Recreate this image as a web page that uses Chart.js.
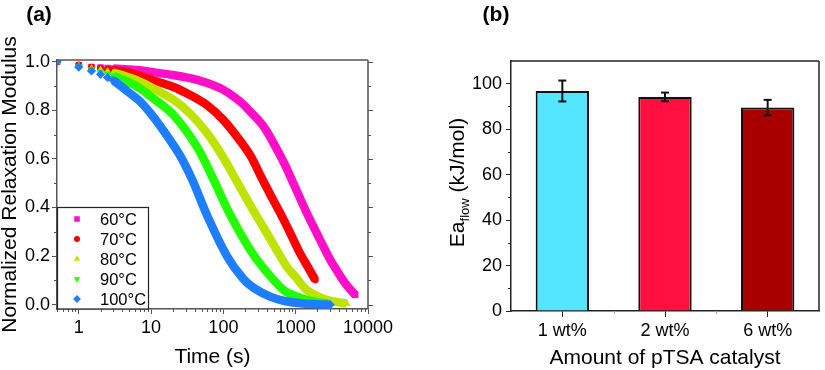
<!DOCTYPE html>
<html>
<head>
<meta charset="utf-8">
<script src="https://cdn.jsdelivr.net/npm/chart.js@4.4.0/dist/chart.umd.min.js"></script>
<style>
  html, body { margin: 0; padding: 0; background: #fff; }
  #wrap { position: relative; width: 825px; height: 370px; }
  canvas { position: absolute; top: 0; }
  #relax { left: 0; }
  #energy { left: 412px; }
</style>
</head>
<body>
<div id="wrap">
  <canvas id="relax" width="412" height="370"></canvas>
  <canvas id="energy" width="413" height="370"></canvas>
</div>
<script>
const FONT = "'Liberation Sans', Arial, sans-serif";

// ---- (a) normalized relaxation modulus vs time (s) ----
const t60 = [0.5, 1, 1.5, 2, 2.5, 3, 5, 7, 10, 20, 35, 60, 100, 170, 240, 350, 500, 700, 840, 1000, 1430, 2000, 2420, 3000, 4130, 5000, 6650];
const g60 = [1.0, 0.985, 0.978, 0.976, 0.974, 0.972, 0.968, 0.965, 0.958, 0.945, 0.932, 0.912, 0.884, 0.836, 0.792, 0.738, 0.662, 0.58, 0.528, 0.478, 0.376, 0.288, 0.239, 0.185, 0.118, 0.082, 0.04];

const t70 = [0.5, 1, 1.5, 2, 2.5, 3, 5, 7, 10, 20, 35, 60, 100, 170, 240, 340, 500, 680, 900, 1150, 1500, 1860];
const g70 = [1.0, 0.986, 0.977, 0.973, 0.969, 0.965, 0.955, 0.942, 0.926, 0.897, 0.862, 0.82, 0.76, 0.675, 0.61, 0.52, 0.425, 0.35, 0.276, 0.211, 0.151, 0.102];

const t80 = [0.5, 1, 1.5, 2, 2.5, 3, 5, 7, 10, 20, 35, 60, 100, 154, 235, 400, 755, 1000, 1430, 2500, 3500, 5100];
const g80 = [1.0, 0.983, 0.972, 0.966, 0.96, 0.955, 0.935, 0.918, 0.895, 0.845, 0.785, 0.705, 0.605, 0.506, 0.41, 0.294, 0.156, 0.114, 0.06, 0.022, 0.012, 0.004];

const t90 = [0.5, 1, 1.5, 2, 2.5, 3, 5, 7, 10, 20, 43, 73, 124, 235, 360, 680, 1000, 1600, 2800];
const g90 = [1.0, 0.98, 0.968, 0.958, 0.95, 0.942, 0.915, 0.891, 0.856, 0.783, 0.65, 0.515, 0.37, 0.225, 0.15, 0.06, 0.035, 0.016, 0.004];

const t100 = [0.5, 1, 1.5, 2, 2.5, 3, 4, 5, 7, 10, 13.4, 25, 37, 60, 112, 190, 276, 444, 700, 1150, 2000, 3000];
const g100 = [1.0, 0.978, 0.962, 0.948, 0.935, 0.923, 0.895, 0.872, 0.837, 0.785, 0.735, 0.615, 0.515, 0.365, 0.2, 0.105, 0.065, 0.033, 0.015, 0.006, 0.002, 0.0];

const tempLabels = ['60°C', '70°C', '80°C', '90°C', '100°C'];
const xTicksA = [1, 10, 100, 1000, 10000];
const yTicksA = [0, 0.2, 0.4, 0.6, 0.8, 1.0];
const yMinorA = [0.1, 0.3, 0.5, 0.7, 0.9];

// ---- (b) flow activation energy ----
const loadings = ['1 wt%', '2 wt%', '6 wt%'];
const eaFlow = [96.8, 94.2, 89.5];
const eaErr = [4.6, 1.9, 3.4];
const yTicksB = [0, 20, 40, 60, 80, 100];
const yMinorB = [10, 30, 50, 70, 90];

const curveStyles = [
  { color: '#FF10C8', shape: 'rect', r: 4.6, rot: 0 },
  { color: '#FF0000', shape: 'circle', r: 3.6, rot: 0 },
  { color: '#BFE300', shape: 'triangle', r: 4.4, rot: 0 },
  { color: '#22FF00', shape: 'triangle', r: 4.4, rot: 180 },
  { color: '#1F7EFF', shape: 'rectRot', r: 4.6, rot: 0 }
];
const curveData = [[t60, g60], [t70, g70], [t80, g80], [t90, g90], [t100, g100]];

const AXIS_A = '#555';
const AXIS_B = '#222';

function line(ctx, x1, y1, x2, y2) {
  ctx.beginPath();
  ctx.moveTo(x1, y1);
  ctx.lineTo(x2, y2);
  ctx.stroke();
}

const relaxDatasets = curveData.map(([t, g], i) => {
  const s = curveStyles[i];
  const last = t[t.length - 1];
  return {
    label: tempLabels[i],
    data: t.map((v, k) => ({ x: v, y: g[k] })),
    showLine: true,
    borderColor: s.color,
    backgroundColor: s.color,
    borderWidth: 8.5,
    tension: 0.35,
    segment: {
      borderColor: ctx => (ctx.p0.parsed.x < 2.9 ? 'rgba(0,0,0,0)' : s.color)
    },
    pointStyle: s.shape,
    pointRotation: s.rot,
    pointBorderWidth: 0,
    pointRadius: ctx => (ctx.raw && (ctx.raw.x <= 3 || ctx.raw.x === last) ? s.r : 0),
    order: 5 - i
  };
});

const relaxDecor = {
  id: 'relaxDecor',
  afterDraw(chart) {
    const { ctx, chartArea: a, scales: { x, y } } = chart;
    ctx.save();
    ctx.strokeStyle = AXIS_A;
    ctx.lineWidth = 1.5;
    line(ctx, a.left, a.top, a.right, a.top);
    line(ctx, a.right, a.top, a.right, a.bottom);
    ctx.lineWidth = 1;
    yTicksA.forEach(v => {
      const py = Math.round(y.getPixelForValue(v)) + 0.5;
      line(ctx, a.right, py, a.right + 5, py);
    });
    yMinorA.forEach(v => {
      const py = Math.round(y.getPixelForValue(v)) + 0.5;
      line(ctx, a.left - 3, py, a.left, py);
      line(ctx, a.right, py, a.right + 3, py);
    });
    for (let d = -1; d <= 3; d++) {
      for (let k = 2; k <= 9; k++) {
        const v = k * Math.pow(10, d);
        if (v < x.min || v > x.max) continue;
        const px = Math.round(x.getPixelForValue(v)) + 0.5;
        line(ctx, px, a.bottom, px, a.bottom + 3);
      }
    }

    // legend box, lower left
    const bx = a.left, by = 207.5, bw = 91, bh = a.bottom - by;
    ctx.fillStyle = '#fff';
    ctx.fillRect(bx, by, bw, bh);
    ctx.strokeStyle = '#222';
    ctx.lineWidth = 1.2;
    ctx.strokeRect(bx + 0.5, by, bw, bh);
    ctx.font = '16.5px ' + FONT;
    ctx.textBaseline = 'middle';
    ctx.textAlign = 'left';
    tempLabels.forEach((lab, i) => {
      const s = curveStyles[i];
      const ry = 219 + i * 20;
      ctx.fillStyle = s.color;
      Chart.helpers.drawPoint(ctx, { pointStyle: s.shape, rotation: s.rot, radius: s.r * 0.85, borderWidth: 0 }, 77, ry);
      ctx.fillStyle = '#000';
      ctx.fillText(lab, 100, ry + 1);
    });

    ctx.font = 'bold 21px ' + FONT;
    ctx.textAlign = 'center';
    ctx.fillStyle = '#000';
    ctx.fillText('(a)', 39, 15);
    ctx.restore();
  }
};

new Chart(document.getElementById('relax'), {
  type: 'scatter',
  data: { datasets: relaxDatasets },
  options: {
    responsive: false,
    animation: false,
    events: [],
    layout: { padding: { left: 0, right: 44, top: 60, bottom: 0 } },
    plugins: { legend: { display: false }, tooltip: { enabled: false } },
    scales: {
      x: {
        type: 'logarithmic',
        min: 0.5,
        max: 10000,
        afterBuildTicks: s => { s.ticks = xTicksA.map(v => ({ value: v })); },
        afterFit: s => { s.height = 61; },
        ticks: {
          color: '#000',
          padding: 3,
          maxRotation: 0,
          font: { family: FONT, size: 18 },
          callback: v => String(v)
        },
        grid: { drawOnChartArea: false, drawTicks: true, tickLength: 5, color: AXIS_A },
        border: { color: AXIS_A, width: 1.5 },
        title: {
          display: true,
          text: 'Time (s)',
          color: '#000',
          padding: 0,
          font: { family: FONT, size: 21 }
        }
      },
      y: {
        min: -0.018,
        max: 1.007,
        afterBuildTicks: s => { s.ticks = yTicksA.map(v => ({ value: v })); },
        afterFit: s => { s.width = 57; },
        ticks: {
          color: '#000',
          padding: 2,
          font: { family: FONT, size: 18 },
          callback: v => Number(v).toFixed(1)
        },
        grid: { drawOnChartArea: false, drawTicks: true, tickLength: 5, color: AXIS_A },
        border: { color: AXIS_A, width: 1.5 },
        title: {
          display: true,
          text: 'Normalized Relaxation Modulus',
          color: '#000',
          padding: 0,
          font: { family: FONT, size: 21, lineHeight: 1.0 }
        }
      }
    }
  },
  plugins: [relaxDecor]
});

// ---- (b) ----
const energyDecor = {
  id: 'energyDecor',
  afterDatasetsDraw(chart) {
    const { ctx, scales: { y } } = chart;
    const bars = chart.getDatasetMeta(0).data;
    ctx.save();
    ctx.strokeStyle = '#111';
    ctx.lineWidth = 2;
    bars.forEach((bar, i) => {
      const hi = y.getPixelForValue(eaFlow[i] + eaErr[i]);
      const lo = y.getPixelForValue(eaFlow[i] - eaErr[i]);
      line(ctx, bar.x, hi, bar.x, lo);
      line(ctx, bar.x - 4, hi, bar.x + 4, hi);
      line(ctx, bar.x - 4, lo, bar.x + 4, lo);
    });
    ctx.restore();
  },
  afterDraw(chart) {
    const { ctx, chartArea: a, scales: { x, y } } = chart;
    ctx.save();
    ctx.strokeStyle = AXIS_B;
    ctx.lineWidth = 1.5;
    line(ctx, a.left, a.top, a.right, a.top);
    line(ctx, a.right, a.top, a.right, a.bottom);
    ctx.lineWidth = 1;
    yMinorB.forEach(v => {
      const py = Math.round(y.getPixelForValue(v)) + 0.5;
      line(ctx, a.left - 3, py, a.left, py);
    });
    ctx.strokeStyle = '#aaa';
    for (let i = 1; i < loadings.length; i++) {
      const px = Math.round((x.getPixelForValue(i - 1) + x.getPixelForValue(i)) / 2) + 0.5;
      line(ctx, px, a.bottom, px, a.bottom + 3);
    }

    // y title with subscript
    ctx.fillStyle = '#000';
    ctx.translate(44.7, 182.5);
    ctx.rotate(-Math.PI / 2);
    ctx.textBaseline = 'alphabetic';
    ctx.textAlign = 'left';
    const big = '21px ' + FONT, small = '13px ' + FONT;
    ctx.font = big;
    const w1 = ctx.measureText('Ea').width;
    const w3 = ctx.measureText(' (kJ/mol)').width;
    ctx.font = small;
    const w2 = ctx.measureText('flow').width;
    let sx = -(w1 + w2 + w3) / 2;
    ctx.font = big;
    ctx.fillText('Ea', sx, 7.5);
    ctx.font = small;
    ctx.fillText('flow', sx + w1, 12.5);
    ctx.font = big;
    ctx.fillText(' (kJ/mol)', sx + w1 + w2, 7.5);
    ctx.restore();

    ctx.save();
    ctx.font = 'bold 21px ' + FONT;
    ctx.textAlign = 'center';
    ctx.textBaseline = 'middle';
    ctx.fillStyle = '#000';
    ctx.fillText('(b)', 84, 15);
    ctx.restore();
  }
};

new Chart(document.getElementById('energy'), {
  type: 'bar',
  data: {
    labels: loadings,
    datasets: [{
      data: eaFlow,
      backgroundColor: ['#55E6FF', '#FF1040', '#A80000'],
      borderColor: '#111',
      borderWidth: 2,
      barPercentage: 0.52,
      categoryPercentage: 1
    }]
  },
  options: {
    responsive: false,
    animation: false,
    events: [],
    layout: { padding: { left: 0, right: 6, top: 61, bottom: 0 } },
    plugins: { legend: { display: false }, tooltip: { enabled: false } },
    scales: {
      x: {
        afterFit: s => { s.height = 59; },
        ticks: { color: '#000', padding: 3, font: { family: FONT, size: 18 } },
        grid: { offset: false, drawOnChartArea: false, drawTicks: true, tickLength: 6, color: AXIS_B },
        border: { color: AXIS_B, width: 1.5 },
        title: {
          display: true,
          text: 'Amount of pTSA catalyst',
          color: '#000',
          padding: 0,
          font: { family: FONT, size: 21, lineHeight: 1.1 }
        }
      },
      y: {
        min: 0,
        max: 110,
        afterBuildTicks: s => { s.ticks = yTicksB.map(v => ({ value: v })); },
        afterFit: s => { s.width = 99; },
        ticks: { color: '#000', padding: 4, font: { family: FONT, size: 18 } },
        grid: { drawOnChartArea: false, drawTicks: true, tickLength: 5, color: AXIS_B },
        border: { color: AXIS_B, width: 1.5 }
      }
    }
  },
  plugins: [energyDecor]
});
</script>
</body>
</html>
